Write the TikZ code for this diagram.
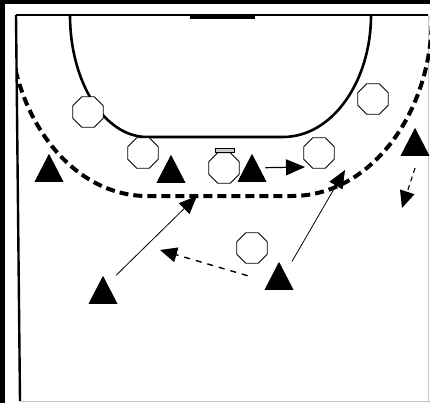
\documentclass[tikz,border=0pt]{standalone}
\usepackage{tikz}
\usetikzlibrary{arrows.meta, shapes.geometric}

\begin{document}
\begin{tikzpicture}[x=1pt,y=-1pt,inner sep=0pt,
  defender/.style={regular polygon,regular polygon sides=8,draw,fill=white,line width=0.9pt,minimum size=33pt},
  attacker/.style={isosceles triangle,isosceles triangle apex angle=60,isosceles triangle stretches,shape border rotate=90,fill=black,minimum width=29pt,minimum height=28pt,anchor=lower side},
  courtline/.style={line width=2.6pt},
  nineline/.style={line width=4pt,dash pattern=on 9pt off 5pt},
  runarrow/.style={line width=0.8pt,-{Triangle[length=18pt,width=15pt]}},
  passarrow/.style={line width=1.4pt,dash pattern=on 6pt off 6pt,-{Triangle[length=17pt,width=15pt]}}]
\useasboundingbox (0,0) rectangle (430,403);
\fill[white] (0,0) rectangle (430,403);
\fill (0,0) rectangle (430,4);
\fill (0,0) rectangle (5,403);
\draw[gray!45,line width=1pt] (428,15) -- (428,403) (20,401) -- (430,401);
\draw[courtline] (16,15) -- (428,15);
\draw[line width=2.4pt] (16,15) -- (20,401);
\draw[line width=3.5pt] (190,17.5) -- (255,17.5);
\draw[courtline] (70,15) arc[start angle=180,end angle=90,x radius=77,y radius=122] -- (283,137) arc[start angle=90,end angle=0,x radius=88,y radius=122];
\begin{scope}
\clip (18,15) rectangle (430,403);
\draw[nineline] (9,15) arc[start angle=180,end angle=90,x radius=138,y radius=181] -- (292,196) arc[start angle=90,end angle=0,x radius=140,y radius=181];
\end{scope}

\node[defender] (d1) at (88,112) {};
\node[defender] (d2) at (143,153) {};
\node[defender] (d3) at (224,168) {};
\node[defender] (d4) at (319,153) {};
\node[defender] (d5) at (373,99) {};
\node[defender] (d6) at (252,248) {};
\draw[fill=gray!40,line width=0.8pt] (215,148) rectangle (234,152);

\node[attacker] (a1) at (49,182) {};
\node[attacker] (a2) at (171,183) {};
\node[attacker] (a3) at (252,182) {};
\node[attacker] (a4) at (415,156) {};
\node[attacker] (a5) at (103,304) {};
\node[attacker] (a6) at (279,290) {};

\coordinate (r1) at (305,167);
\coordinate (r2) at (197,196);
\coordinate (r3) at (345,170);
\coordinate (p1) at (160,250);
\coordinate (r4) at (402,208);

\draw[runarrow,line width=1.2pt,-{Triangle[length=19pt,width=16pt]}] ([xshift=6pt]a3.right side) -- (r1);
\draw[runarrow] ([xshift=13pt]a5.apex) -- (r2);
\draw[runarrow] ([xshift=13pt]a6.apex) -- (r3);
\draw[passarrow] ([xshift=-24pt]a6.left side) -- (p1);
\draw[passarrow,line width=1.1pt,dash pattern=on 5pt off 4pt] ([yshift=-12pt]a4.lower side) -- (r4);
\end{tikzpicture}
\end{document}
